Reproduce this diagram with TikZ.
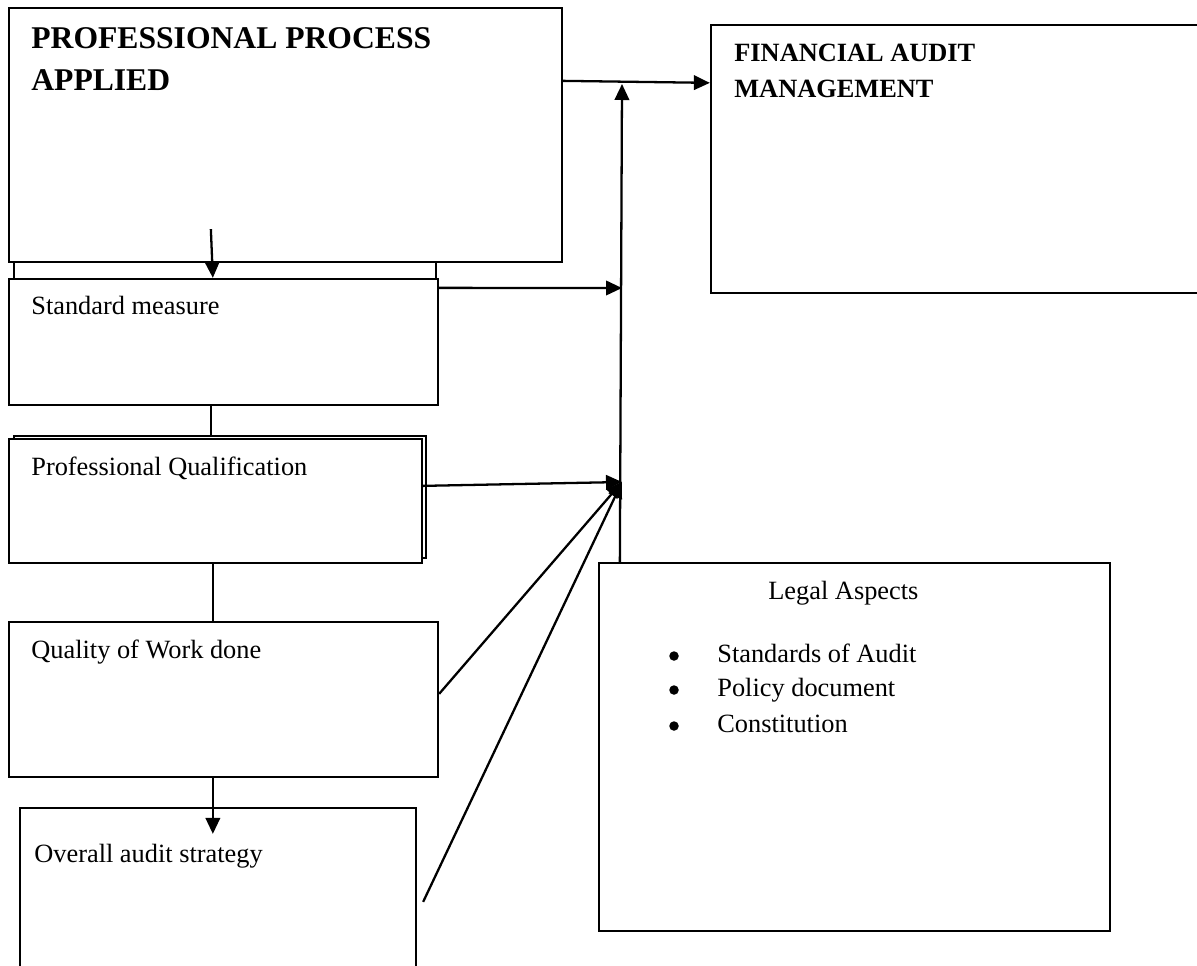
\documentclass[tikz,border=0pt]{standalone}
\usepackage{fontspec}
\setmainfont{Liberation Serif}
\usetikzlibrary{arrows.meta, positioning, fit, calc}

\begin{document}
\begin{tikzpicture}[
    x=0.2mm, y=-0.2mm,
    box/.style={rectangle, draw=black, line width=1.3pt, fill=white, inner sep=0pt},
    boxtext/.style={anchor=base west, inner sep=0pt, font=\fontsize{15}{18}\selectfont},
    headtext/.style={anchor=base west, inner sep=0pt, font=\bfseries\fontsize{18}{22}\selectfont},
    subhead/.style={anchor=base west, inner sep=0pt, font=\bfseries\fontsize{15}{18}\selectfont},
    dot/.style={circle, fill=black, inner sep=0pt, minimum size=1.9mm},
    link/.style={line width=1.3pt},
    arr/.style={link, -{Triangle[length=3.2mm, width=2.9mm]}}
]
    \clip (0,0) rectangle (1197,965);

    % left column
    \node[box, fit={(14,240) (436,279)}] (smback) {};
    \node[box, fit={(9,8) (562,262)}] (ppa) {};
    \node[box, fit={(9,279) (438,405)}] (sm) {};
    \node[box, fit={(14,436) (426,558)}] (pqback) {};
    \node[box, fit={(9,439) (422,563)}] (pq) {};
    \node[box, fit={(9,622) (438,777)}] (qw) {};
    \node[box, fit={(20,808) (416,990)}] (oas) {};

    % right column
    \node[box, fit={(711,25) (1210,293)}] (fam) {};
    \node[box, fit={(599,563) (1110,931)}] (legal) {};

    % texts
    \node[headtext] (ppa1) at (31,48) {PROFESSIONAL PROCESS};
    \node[headtext] (ppa2) at (31,90) {APPLIED};
    \node[subhead] (fam1) at (734,61) {FINANCIAL AUDIT};
    \node[subhead] (fam2) at (734,97) {MANAGEMENT};
    \node[boxtext] (smtext) at (31,314) {Standard measure};
    \node[boxtext] (pqtext) at (31,475) {Professional Qualification};
    \node[boxtext] (qwtext) at (31,658) {Quality of Work done};
    \node[boxtext] (oastext) at (34,862) {Overall audit strategy};
    \node[boxtext] (legaltext) at (768,599) {Legal Aspects};
    \foreach \name/\txt/\yy in {b1/Standards of Audit/662, b2/Policy document/696, b3/Constitution/732} {
        \node[dot] (\name dot) at (674,\yy-6) {};
        \node[boxtext] (\name) at (717,\yy) {\txt};
    }

    % connectors
    \coordinate (join) at (622,84);
    \coordinate (smin) at (622,288);
    \coordinate (hub) at (622,482);

    \draw[arr] ($(ppa.north east)+(0,74)$) -- ($(fam.north west)+(0,59)$);
    \draw[arr] ($(legal.north west)+(22,0)$) -- (join);
    \draw[arr] ($(sm.north east)+(0,10)$) -- (smin);
    \draw[arr] ($(pq.north east)+(0,48)$) -- (hub);
    \draw[arr] ($(qw.north east)+(0,73)$) -- (hub);
    \draw[arr] ($(oas.north east)+(6,95)$) -- (hub);

    \draw[arr] ($(ppa.south west)+(203,-34)$) -- ($(sm.north west)+(205,0)$);
    \draw[link] ($(sm.south west)+(203,0)$) -- ($(pqback.north west)+(198,0)$);
    \draw[link] ($(pq.south west)+(205,0)$) -- ($(qw.north west)+(205,0)$);
    \draw[arr] ($(qw.south west)+(205,0)$) -- ($(oas.north west)+(194,27)$);
\end{tikzpicture}
\end{document}
